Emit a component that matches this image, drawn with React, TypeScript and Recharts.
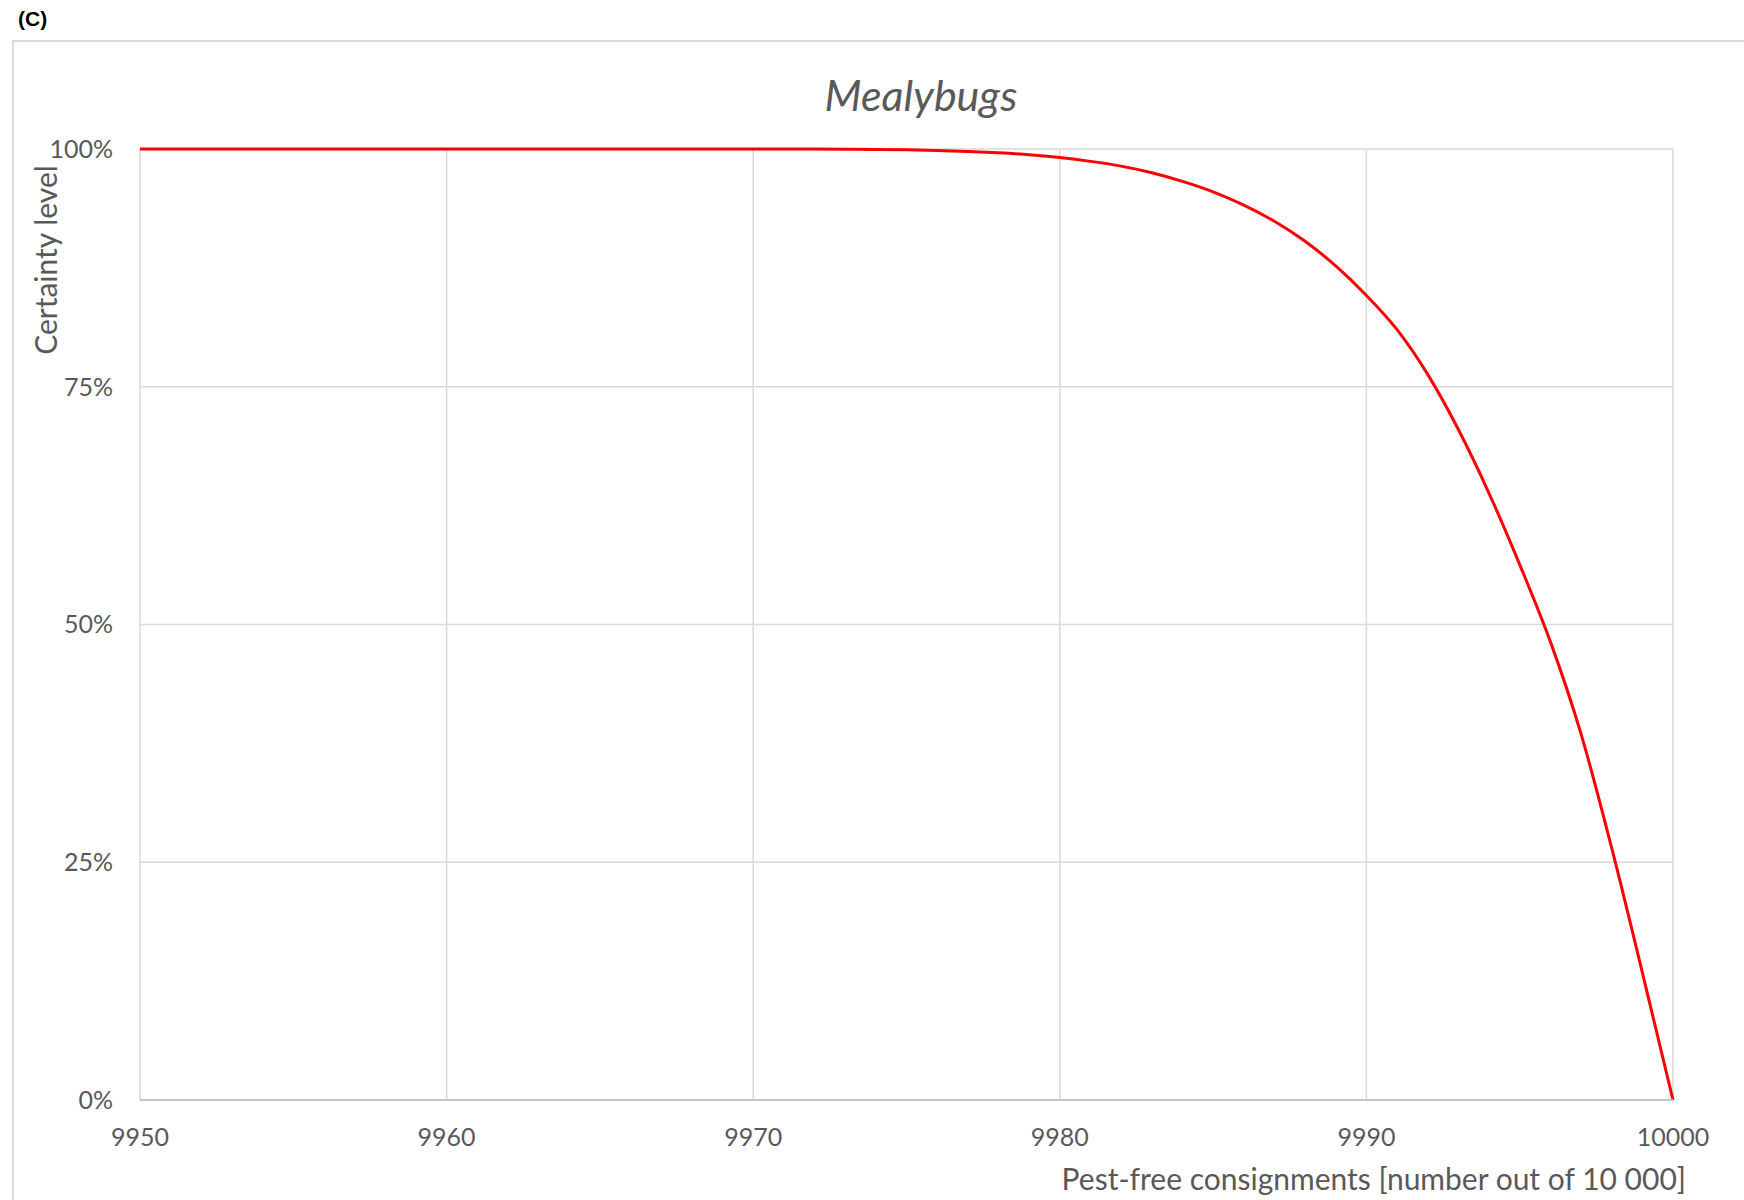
import React from "react";
import { LineChart, Line, XAxis, YAxis, CartesianGrid } from "recharts";

// pest-free consignments (out of 10 000)
const consignments = [
  9950, 9951, 9952, 9953, 9954, 9955, 9956, 9957, 9958, 9959,
  9960, 9961, 9962, 9963, 9964, 9965, 9966, 9967, 9968, 9969,
  9970, 9971, 9972, 9973, 9974, 9975, 9976, 9977, 9978, 9979,
  9980, 9981, 9982, 9983, 9984, 9985, 9986, 9987, 9988, 9989,
  9990, 9991, 9992, 9993, 9994, 9995, 9996, 9997, 9998, 9999, 10000,
];

// certainty level
const certainty = [
  1, 1, 1, 1, 1, 1, 1, 1, 1, 1,
  1, 1, 1, 1, 1, 1, 1, 1, 1, 1,
  1, 1, 0.9999, 0.9998, 0.9996, 0.9992, 0.9985, 0.9975, 0.996, 0.994,
  0.991, 0.987, 0.982, 0.975, 0.966, 0.955, 0.941, 0.924, 0.903, 0.877,
  0.846, 0.81, 0.763, 0.705, 0.638, 0.563, 0.482, 0.385, 0.265, 0.134, 0,
];

const xTicks = [9950, 9960, 9970, 9980, 9990, 10000];
const yTicks = [0, 0.25, 0.5, 0.75, 1];

const data = consignments.map((x, i) => ({ x, y: certainty[i] }));

const FONT = "Lato, 'Open Sans', sans-serif";
const GREY = "#595959";

export default function App() {
  return (
    <div
      style={{
        position: "absolute",
        left: 0,
        top: 0,
        width: 1744,
        height: 1200,
        overflow: "hidden",
        background: "#fff",
      }}
    >
      <div
        style={{
          position: "absolute",
          left: 12,
          top: 40,
          width: 1800,
          height: 1300,
          borderLeft: "2px solid #dadada",
          borderTop: "2px solid #dadada",
        }}
      />
      <LineChart
        width={1744}
        height={1200}
        data={data}
        margin={{ top: 149, right: 71, bottom: 10, left: 40 }}
        style={{ position: "absolute", left: 0, top: 0 }}
      >
        <CartesianGrid stroke="#d9d9d9" strokeWidth={1.5} />
        <XAxis
          dataKey="x"
          type="number"
          domain={[9950, 10000]}
          ticks={xTicks}
          height={90}
          tickLine={false}
          axisLine={{ stroke: "#c4c4c4", strokeWidth: 2 }}
          tickMargin={22}
          tick={{ fontSize: 25, fill: GREY, fontFamily: FONT }}
        />
        <YAxis
          type="number"
          domain={[0, 1]}
          ticks={yTicks}
          width={100}
          tickLine={false}
          axisLine={false}
          tickMargin={21}
          tickFormatter={(v: number) => `${Math.round(v * 100)}%`}
          tick={{ fontSize: 25, fill: GREY, fontFamily: FONT }}
        />
        <Line
          dataKey="y"
          type="monotone"
          stroke="#ff0000"
          strokeWidth={3}
          dot={false}
          isAnimationActive={false}
        />
      </LineChart>
      <svg
        width={1744}
        height={1200}
        style={{ position: "absolute", left: 0, top: 0, pointerEvents: "none" }}
      >
        <text
          x={18}
          y={26}
          fontFamily="'Liberation Sans', Arial, sans-serif"
          fontWeight="bold"
          fontSize={21}
          fill="#000"
        >
          (C)
        </text>
        <text
          x={921}
          y={111}
          textAnchor="middle"
          fontFamily={FONT}
          fontStyle="italic"
          fontSize={43}
          fill={GREY}
        >
          Mealybugs
        </text>
        <text
          x={1686}
          y={1190}
          textAnchor="end"
          fontFamily={FONT}
          fontSize={30}
          fill={GREY}
        >
          Pest-free consignments [number out of 10 000]
        </text>
        <text
          transform="translate(57 260) rotate(-90)"
          textAnchor="middle"
          fontFamily={FONT}
          fontSize={30}
          fill={GREY}
        >
          Certainty level
        </text>
      </svg>
    </div>
  );
}
